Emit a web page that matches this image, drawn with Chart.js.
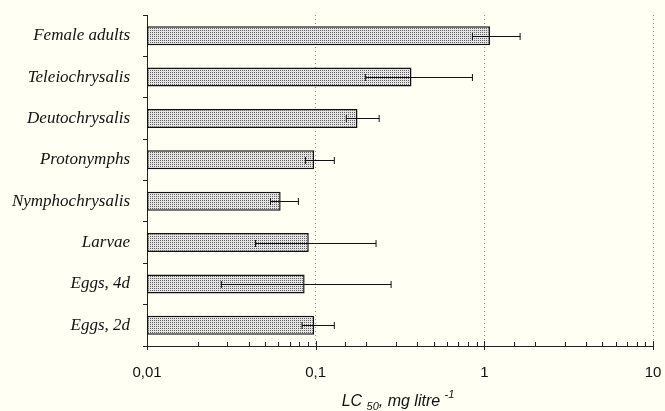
<!DOCTYPE html>
<html>
<head>
<meta charset="utf-8">
<script src="https://cdn.jsdelivr.net/npm/chart.js@4/dist/chart.umd.min.js"></script>
<style>
    html, body { margin: 0; padding: 0; background: #fffff4; }
    #wrap { width: 665px; height: 411px; position: relative; }
</style>
</head>
<body>
<div id="wrap"><canvas id="lcChart"></canvas></div>
<script>
// LC50 per developmental stage, with lower / upper confidence limits (mg/l)
const stages = ['Female adults', 'Teleiochrysalis', 'Deutochrysalis', 'Protonymphs',
                'Nymphochrysalis', 'Larvae', 'Eggs, 4d', 'Eggs, 2d'];
const lc50 = [1.08, 0.37, 0.177, 0.098, 0.062, 0.091, 0.086, 0.098];
const ciLow = [0.85, 0.197, 0.152, 0.087, 0.054, 0.044, 0.0276, 0.083];
const ciHigh = [1.63, 0.85, 0.238, 0.129, 0.079, 0.228, 0.28, 0.129];
const xTickLabels = { 0.01: '0,01', 0.1: '0,1', 1: '1', 10: '10' };

function isDecade(v) {
    const l = Math.log10(v);
    return Math.abs(l - Math.round(l)) < 1e-9;
}

// stippled fill for the bars: a square grid of small dots
function makeStipple() {
    const c = document.createElement('canvas');
    c.width = 2; c.height = 2;
    const g = c.getContext('2d');
    g.fillStyle = '#e6e6de';
    g.fillRect(0, 0, 2, 2);
    g.fillStyle = '#5e5e5e';
    g.fillRect(0, 0, 1, 1);
    return g.createPattern(c, 'repeat');
}

const errorBars = {
    id: 'errorBars',
    afterDatasetsDraw(chart) {
        const ctx = chart.ctx;
        const x = chart.scales.x;
        const meta = chart.getDatasetMeta(0);
        ctx.save();
        ctx.strokeStyle = '#111';
        ctx.lineWidth = 1;
        meta.data.forEach((bar, i) => {
            const y = Math.round(bar.y) + 0.5;
            const x1 = x.getPixelForValue(ciLow[i]);
            const x2 = x.getPixelForValue(ciHigh[i]);
            ctx.beginPath();
            ctx.moveTo(x1, y);
            ctx.lineTo(x2, y);
            ctx.moveTo(x1, y - 3.5);
            ctx.lineTo(x1, y + 3.5);
            ctx.moveTo(x2, y - 3.5);
            ctx.lineTo(x2, y + 3.5);
            ctx.stroke();
        });
        ctx.restore();
    }
};

const logTicks = {
    id: 'logTicks',
    afterDraw(chart) {
        const ctx = chart.ctx;
        const x = chart.scales.x;
        const bottom = chart.chartArea.bottom;
        ctx.save();
        ctx.strokeStyle = '#222';
        ctx.lineWidth = 1;
        x.ticks.forEach(t => {
            const px = Math.round(x.getPixelForValue(t.value)) + 0.5;
            ctx.beginPath();
            if (isDecade(t.value)) {
                ctx.moveTo(px, bottom - 5);
                ctx.lineTo(px, bottom + 4);
            } else {
                ctx.moveTo(px, bottom - 4);
                ctx.lineTo(px, bottom);
            }
            ctx.stroke();
        });

        // axis title: LC50, mg litre-1
        const y = 406;
        const big = 'italic 16px "Liberation Sans", Arial, sans-serif';
        const small = 'italic 11px "Liberation Sans", Arial, sans-serif';
        const parts = [
            { t: 'LC ', f: big, dy: 0 },
            { t: '50', f: small, dy: 4 },
            { t: ', mg litre ', f: big, dy: 0 },
            { t: '-1', f: small, dy: -8 }
        ];
        let total = 0;
        parts.forEach(p => { ctx.font = p.f; p.w = ctx.measureText(p.t).width; total += p.w; });
        let cx = 398 - total / 2;
        ctx.fillStyle = '#111';
        ctx.textBaseline = 'alphabetic';
        ctx.textAlign = 'left';
        parts.forEach(p => {
            ctx.font = p.f;
            ctx.fillText(p.t, cx, y + p.dy);
            cx += p.w;
        });
        ctx.restore();
    }
};

const ctx = document.getElementById('lcChart').getContext('2d');
const chart = new Chart(ctx, {
    type: 'bar',
    data: {
        labels: stages,
        datasets: [{
            data: lc50,
            backgroundColor: makeStipple(),
            borderColor: '#111',
            borderWidth: 1.5,
            borderSkipped: false,
            barPercentage: 0.46,
            categoryPercentage: 1
        }]
    },
    options: {
        indexAxis: 'y',
        responsive: true,
        maintainAspectRatio: false,
        animation: false,
        layout: { padding: { top: 15, right: 12, left: 0, bottom: 0 } },
        plugins: {
            legend: { display: false },
            tooltip: { enabled: false }
        },
        scales: {
            x: {
                type: 'logarithmic',
                min: 0.01,
                max: 10,
                afterFit: s => {
                    s.height = 65;
                    s.paddingLeft = 0;
                    s.paddingRight = 0;
                },
                grid: {
                    drawTicks: false,
                    color: c => (c.tick && isDecade(c.tick.value) && c.tick.value > 0.011) ? '#8c8c8c' : 'rgba(0,0,0,0)',
                    lineWidth: 1
                },
                border: { display: true, color: '#222', width: 1, dash: [1, 3] },
                ticks: {
                    autoSkip: false,
                    maxRotation: 0,
                    padding: 18,
                    color: '#111',
                    font: { family: '"Liberation Sans", Arial, sans-serif', size: 15 },
                    callback: v => xTickLabels[v] !== undefined ? xTickLabels[v] : ''
                }
            },
            y: {
                afterFit: s => {
                    s.width = 147;
                    s.paddingTop = 0;
                    s.paddingBottom = 0;
                },
                grid: {
                    color: 'rgba(0,0,0,0)',
                    tickColor: '#222',
                    tickLength: 4,
                    drawOnChartArea: false
                },
                border: { display: true, color: '#222', width: 1 },
                ticks: {
                    padding: 13,
                    color: '#111',
                    font: { family: '"Liberation Serif", "Times New Roman", serif', size: 17, style: 'italic' }
                }
            }
        }
    },
    plugins: [errorBars, logTicks]
});
</script>
</body>
</html>
